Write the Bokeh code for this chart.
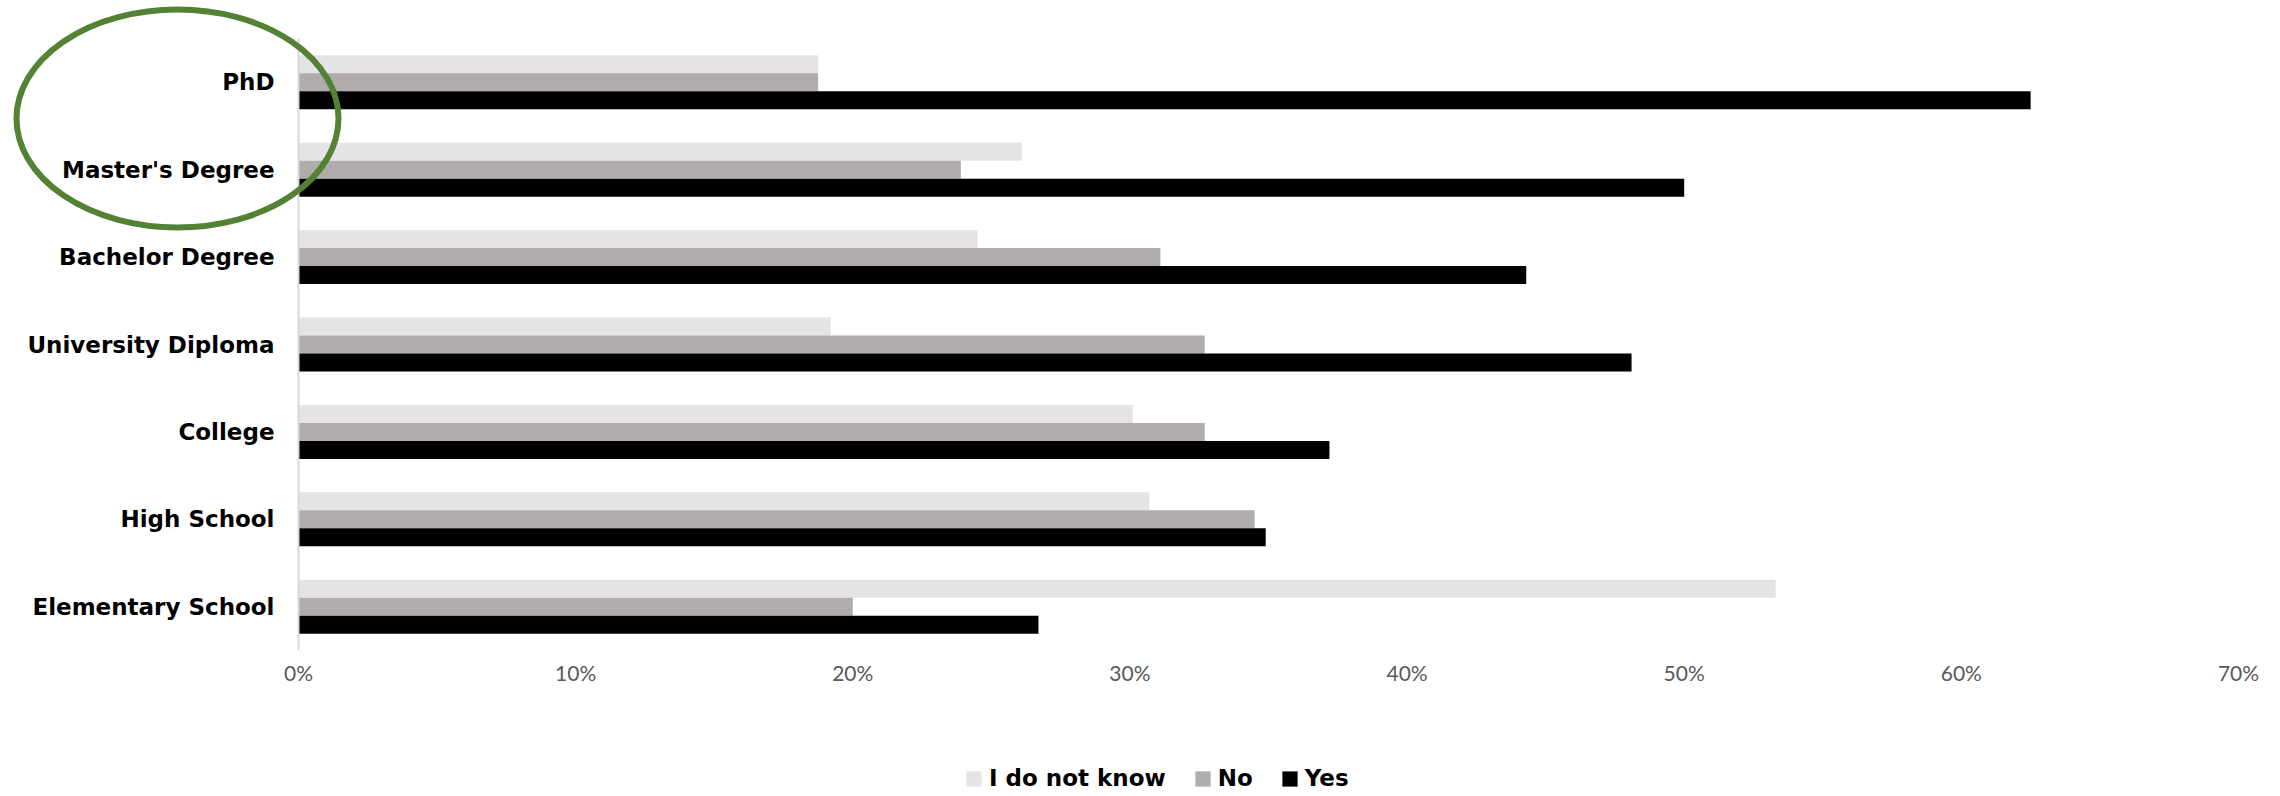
from bokeh.plotting import figure
from bokeh.layouts import column
from bokeh.models import (ColumnDataSource, FactorRange, Range1d, FixedTicker,
                          PrintfTickFormatter, Legend, LegendItem)
from bokeh.transform import dodge
from bokeh.embed import file_html
from bokeh.resources import INLINE

# ---- data (bottom to top) ----
categories = ["Elementary School", "High School", "College", "University Diploma",
              "Bachelor Degree", "Master's Degree", "PhD"]
idk = [53.3, 30.7, 30.1, 19.2, 24.5, 26.1, 18.75]
no = [20.0, 34.5, 32.7, 32.7, 31.1, 23.9, 18.75]
yes = [26.7, 34.9, 37.2, 48.1, 44.3, 50.0, 62.5]
series_names = ["I do not know", "No", "Yes"]
x_ticks = [0, 10, 20, 30, 40, 50, 60, 70]

source = ColumnDataSource(dict(cat=categories, idk=idk, no=no, yes=yes))

W, H = 2280, 796
LABEL_FONT = "DejaVu Sans"
p = figure(y_range=FactorRange(*categories, range_padding=0),
           x_range=Range1d(0, 70),
           frame_width=1940, frame_height=612,
           min_border_left=298, min_border_right=42,
           min_border_top=38, min_border_bottom=146,
           output_backend="svg", toolbar_location=None)
p.frame_align = False
p.background_fill_color = "white"
p.border_fill_color = "white"
p.outline_line_color = None
p.xgrid.grid_line_color = None
p.ygrid.grid_line_color = None

bw = 0.206
colors = ["#E4E4E4", "#AFACAB", "#000000"]
fields = ["idk", "no", "yes"]
offsets = [bw, 0.0, -bw]
for f, c, off in zip(fields, colors, offsets):
    p.hbar(y=dodge("cat", off, range=p.y_range), right=f, left=0, height=bw,
           source=source, fill_color=c, line_color=None)

# x axis
xa = p.xaxis[0]
xa.ticker = FixedTicker(ticks=x_ticks)
xa.formatter = PrintfTickFormatter(format="%d%%")
xa.axis_line_color = None
xa.major_tick_line_color = None
xa.minor_tick_line_color = None
xa.major_tick_out = 0
xa.major_tick_in = 0
xa.major_label_standoff = 9
xa.major_label_text_font = "Lato"
xa.major_label_text_font_size = "21px"
xa.major_label_text_color = "#595959"

# y axis
ya = p.yaxis[0]
ya.axis_line_color = "#D9D9D9"
ya.axis_line_width = 2
ya.major_tick_line_color = None
ya.minor_tick_line_color = None
ya.major_tick_out = 0
ya.major_tick_in = 0
ya.major_label_standoff = 24
ya.major_label_text_font = LABEL_FONT
ya.major_label_text_font_style = "bold"
ya.major_label_text_font_size = "23px"
ya.major_label_text_color = "#000000"

# ---- transparent overlay: green highlight ellipse + legend (both lie outside the plot frame) ----
ov = figure(width=W, height=H, x_range=Range1d(0, W), y_range=Range1d(H, 0),
            min_border=0, x_axis_location=None, y_axis_location=None,
            output_backend="svg", toolbar_location=None)
ov.frame_align = False
ov.xgrid.grid_line_color = None
ov.ygrid.grid_line_color = None
ov.outline_line_color = None
ov.background_fill_alpha = 0
ov.border_fill_alpha = 0
ov.ellipse(x=[177], y=[118], width=[322], height=[218],
           fill_alpha=0, line_color="#548235", line_width=6)

nan = float("nan")
leg_renderers = [ov.hbar(y=[nan], right=[nan], left=0, height=1, fill_color=c, line_color=None)
                 for c in colors]
legend = Legend(items=[LegendItem(label=n, renderers=[r]) for n, r in zip(series_names, leg_renderers)],
                orientation="horizontal", location=(964, 5),
                glyph_width=19, glyph_height=19, label_standoff=6, spacing=27,
                padding=0, margin=0,
                label_text_font=LABEL_FONT, label_text_font_style="bold",
                label_text_font_size="23px", label_text_color="#000000",
                border_line_color=None, background_fill_alpha=0)
ov.add_layout(legend, "center")
ov.styles = {"margin-top": f"-{H}px"}

layout = column(p, ov, spacing=0)
open("out.html", "w").write(file_html(layout, INLINE))
